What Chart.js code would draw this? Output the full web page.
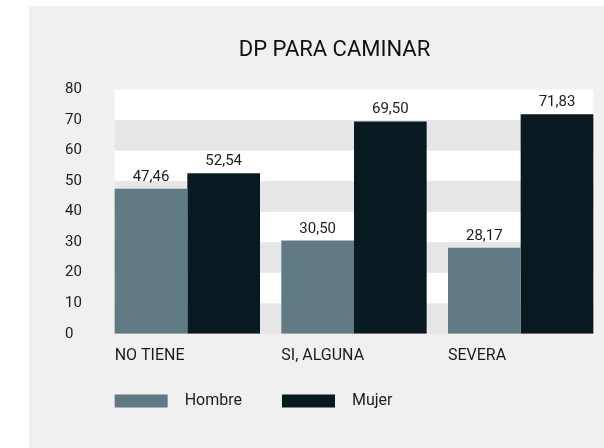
<!DOCTYPE html>
<html>
<head>
<meta charset="utf-8">
<script src="https://cdn.jsdelivr.net/npm/chart.js@4.4.1/dist/chart.umd.min.js"></script>
<style>
    html, body { margin: 0; padding: 0; background: #ffffff; }
    .panel {
        position: absolute;
        left: 29px;
        top: 6px;
        width: 575px;
        height: 442px;
        background: #f0f0f0;
    }
</style>
</head>
<body>
<div class="panel">
    <canvas id="dpChart" width="575" height="442"></canvas>
</div>
<script>
// Chart data
const categories = ['NO TIENE', 'SI, ALGUNA', 'SEVERA'];
const hombreValues = [47.46, 30.50, 28.17];
const mujerValues = [52.54, 69.50, 71.83];
const yTicks = [0, 10, 20, 30, 40, 50, 60, 70, 80];

const FONT = "Roboto, 'Noto Sans', sans-serif";
const TEXT_COLOR = '#1c1c1c';

function formatValue(v) {
    return v.toFixed(2).replace('.', ',');
}

// Alternating horizontal bands behind the bars
const bandsPlugin = {
    id: 'bands',
    beforeDatasetsDraw(chart) {
        const ctx = chart.ctx;
        const y = chart.scales.y;
        const first = chart.getDatasetMeta(0).data[0];
        const lastMeta = chart.getDatasetMeta(chart.data.datasets.length - 1);
        const last = lastMeta.data[lastMeta.data.length - 1];
        const left = first.x - first.width / 2;
        const right = last.x + last.width / 2;
        ctx.save();
        for (let i = 0; i < yTicks.length - 1; i++) {
            const top = y.getPixelForValue(yTicks[i + 1]);
            const bottom = y.getPixelForValue(yTicks[i]);
            ctx.fillStyle = i % 2 === 0 ? '#e6e6e6' : '#ffffff';
            ctx.fillRect(left, top, right - left, bottom - top);
        }
        ctx.restore();
    }
};

// Value labels above each bar
const valueLabelsPlugin = {
    id: 'valueLabels',
    afterDatasetsDraw(chart) {
        const ctx = chart.ctx;
        ctx.save();
        ctx.font = '15px ' + FONT;
        ctx.fillStyle = TEXT_COLOR;
        ctx.textAlign = 'center';
        ctx.textBaseline = 'alphabetic';
        chart.data.datasets.forEach((ds, di) => {
            chart.getDatasetMeta(di).data.forEach((bar, i) => {
                ctx.fillText(formatValue(ds.data[i]), bar.x, bar.y - 8);
            });
        });
        ctx.restore();
    }
};

// Legend under the x axis, starting at the first bar
const legendPlugin = {
    id: 'customLegend',
    afterDraw(chart) {
        const ctx = chart.ctx;
        const first = chart.getDatasetMeta(0).data[0];
        let x = first.x - first.width / 2;
        const yMid = 395;
        ctx.save();
        ctx.font = '16px ' + FONT;
        ctx.textBaseline = 'middle';
        ctx.textAlign = 'left';
        chart.data.datasets.forEach(ds => {
            ctx.fillStyle = ds.backgroundColor;
            ctx.fillRect(x, yMid - 6.5, 53, 13);
            x += 53 + 17;
            ctx.fillStyle = TEXT_COLOR;
            ctx.fillText(ds.label, x, yMid);
            x += ctx.measureText(ds.label).width + 40;
        });
        ctx.restore();
    }
};

document.addEventListener('DOMContentLoaded', function() {
    const ctx = document.getElementById('dpChart').getContext('2d');
    new Chart(ctx, {
        type: 'bar',
        data: {
            labels: categories,
            datasets: [{
                label: 'Hombre',
                data: hombreValues,
                backgroundColor: '#607a84',
                categoryPercentage: 0.872,
                barPercentage: 1.0
            }, {
                label: 'Mujer',
                data: mujerValues,
                backgroundColor: '#081a1f',
                categoryPercentage: 0.872,
                barPercentage: 1.0
            }]
        },
        options: {
            responsive: false,
            animation: false,
            layout: {
                padding: { left: 36, right: 0, top: 0, bottom: 69 }
            },
            plugins: {
                legend: { display: false },
                tooltip: { enabled: false },
                title: {
                    display: true,
                    text: 'DP PARA CAMINAR',
                    color: '#111111',
                    font: { family: FONT, size: 22, weight: 'normal' },
                    padding: { top: 31, bottom: 26 }
                }
            },
            scales: {
                y: {
                    min: 0,
                    max: 80,
                    grid: { display: false, drawTicks: false },
                    border: { display: false },
                    afterFit: function(scale) {
                        scale.width = 39;
                    },
                    ticks: {
                        stepSize: 10,
                        crossAlign: 'far',
                        padding: 0,
                        color: TEXT_COLOR,
                        font: { family: FONT, size: 15 }
                    }
                },
                x: {
                    grid: { display: false, drawTicks: false },
                    border: { display: false },
                    ticks: {
                        align: 'start',
                        labelOffset: -72.7,
                        padding: 13,
                        color: TEXT_COLOR,
                        font: { family: FONT, size: 16 }
                    }
                }
            }
        },
        plugins: [bandsPlugin, valueLabelsPlugin, legendPlugin]
    });
});
</script>
</body>
</html>
